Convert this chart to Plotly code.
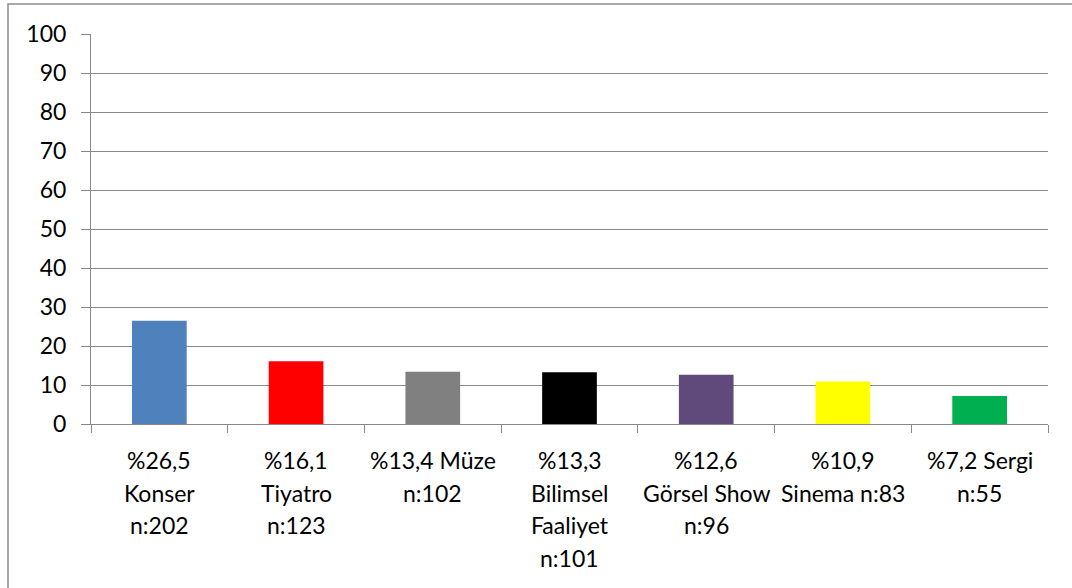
import plotly.graph_objects as go

# Etkinlik türlerine göre katılım yüzdeleri
categories = ["Konser", "Tiyatro", "Müze", "Bilimsel Faaliyet", "Görsel Show", "Sinema", "Sergi"]
percent = [26.5, 16.1, 13.4, 13.3, 12.6, 10.9, 7.2]
counts = [202, 123, 102, 101, 96, 83, 55]
label_lines = [
    ["%26,5", "Konser", "n:202"],
    ["%16,1", "Tiyatro", "n:123"],
    ["%13,4 Müze", "n:102"],
    ["%13,3", "Bilimsel", "Faaliyet", "n:101"],
    ["%12,6", "Görsel Show", "n:96"],
    ["%10,9", "Sinema n:83"],
    ["%7,2 Sergi", "n:55"],
]
bar_colors = ["#4F81BD", "#FF0000", "#808080", "#000000", "#604A7B", "#FFFF00", "#00B050"]
y_ticks = list(range(0, 101, 10))

FONT = "Lato"
FSIZE = 23
W, H = 1072, 588
ML, MR, MT, MB = 91, 24, 34, 164
GRID = "#888888"

fig = go.Figure(
    go.Bar(
        x=categories,
        y=percent,
        marker=dict(color=bar_colors, line=dict(width=0)),
        customdata=counts,
        hovertemplate="%{x}: %{y} (n=%{customdata})<extra></extra>",
    )
)

# Multi-line category labels, one annotation per line for tighter spacing
line_step = 32.5
first_line = 36
annotations = []
for cat, lines in zip(categories, label_lines):
    for i, txt in enumerate(lines):
        annotations.append(
            dict(
                x=cat, xref="x", y=0, yref="paper",
                text=txt, showarrow=False,
                xanchor="center", yanchor="middle",
                yshift=-(first_line + i * line_step),
                font=dict(family=FONT, size=FSIZE, color="#000000"),
            )
        )

plot_w = W - ML - MR
plot_h = H - MT - MB

fig.update_layout(
    width=W, height=H,
    margin=dict(l=ML, r=MR, t=MT, b=MB),
    paper_bgcolor="white", plot_bgcolor="white",
    bargap=0.6,
    showlegend=False,
    font=dict(family=FONT, size=FSIZE, color="#000000"),
    annotations=annotations,
    shapes=[
        dict(
            type="rect", xref="paper", yref="paper",
            x0=(8 - ML) / plot_w, x1=(W + 20 - ML) / plot_w,
            y0=-(H + 20 - MT - plot_h) / plot_h, y1=1 + (MT - 4) / plot_h,
            line=dict(color="#8C8C8C", width=1.5), fillcolor="rgba(0,0,0,0)",
            layer="below",
        )
    ],
)

fig.update_xaxes(
    type="category",
    showticklabels=False,
    ticks="outside", ticklen=8, tickcolor=GRID, tickwidth=1,
    tickson="boundaries",
    showline=True, linecolor=GRID, linewidth=1,
    showgrid=False, zeroline=False,
)
fig.update_yaxes(
    range=[0, 100],
    tickvals=y_ticks,
    ticks="outside", ticklen=9, tickcolor=GRID, tickwidth=1,
    showline=True, linecolor=GRID, linewidth=1,
    showgrid=True, gridcolor=GRID, gridwidth=1,
    zeroline=False,
    tickfont=dict(family=FONT, size=FSIZE, color="#000000"),
    ticklabelstandoff=10,
)

fig.write_html("out.html")
